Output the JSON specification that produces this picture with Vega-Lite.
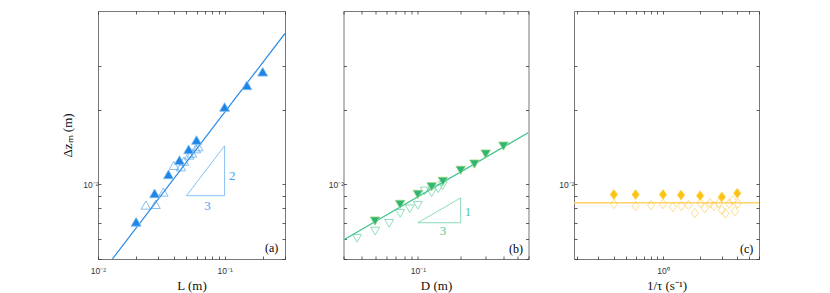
{
  "$schema": "https://vega.github.io/schema/vega-lite/v6.json",
  "padding": {"left": 61, "top": 10, "right": 0, "bottom": 0},
  "background": "white",
  "spacing": 28.5,
  "config": {
    "view": {"stroke": "#777777", "strokeWidth": 1},
    "style": {"guide-title": {"fontWeight": "normal"}},
    "axis": {
      "domain": false, "grid": false, "tickSize": -3, "tickColor": "#333333", "tickWidth": 0.8,
      "labelFont": "Liberation Sans", "labelFontSize": 8.5, "labelColor": "#333333",
      "labelFlush": false, "labelOverlap": false, "labelPadding": 3,
      "titleFont": "Liberation Serif", "titleFontSize": 13, "titleFontWeight": "normal", "titleColor": "#111111"
    },
    "axisX": {"labelPadding": 10, "titlePadding": 5},
    "axisY": {"titlePadding": 8},
    "text": {"font": "Liberation Serif"}
  },
  "datasets": {
    "a": [
      {"k": "fit", "x": 0.013, "y": 0.005},
      {"k": "fit", "x": 0.3, "y": 0.0406},
      {"k": "tri", "x": 0.05, "y": 0.009, "o": 0},
      {"k": "tri", "x": 0.1, "y": 0.009, "o": 1},
      {"k": "tri", "x": 0.1, "y": 0.0143, "o": 2},
      {"k": "tri", "x": 0.05, "y": 0.009, "o": 3},
      {"k": "open", "x": 0.0239, "y": 0.00825},
      {"k": "open", "x": 0.0285, "y": 0.0083},
      {"k": "open", "x": 0.0328, "y": 0.00931},
      {"k": "open", "x": 0.0398, "y": 0.01193},
      {"k": "open", "x": 0.0452, "y": 0.01177},
      {"k": "open", "x": 0.0477, "y": 0.0124},
      {"k": "open", "x": 0.0526, "y": 0.01313},
      {"k": "open", "x": 0.0552, "y": 0.01337},
      {"k": "open", "x": 0.0594, "y": 0.01392},
      {"k": "open", "x": 0.0619, "y": 0.01418},
      {"k": "filled", "x": 0.02, "y": 0.00706},
      {"k": "filled", "x": 0.028, "y": 0.0092},
      {"k": "filled", "x": 0.036, "y": 0.01097},
      {"k": "filled", "x": 0.044, "y": 0.01253},
      {"k": "filled", "x": 0.052, "y": 0.01384},
      {"k": "filled", "x": 0.06, "y": 0.01509},
      {"k": "filled", "x": 0.1, "y": 0.0205},
      {"k": "filled", "x": 0.15, "y": 0.02507},
      {"k": "filled", "x": 0.2, "y": 0.02844},
      {"k": "slope", "x": 0.1147, "y": 0.0108, "t": "2"},
      {"k": "slope", "x": 0.0734, "y": 0.00818, "t": "3"},
      {"k": "panel", "x": 0.235, "y": 0.00555, "t": "(a)"}
    ],
    "b": [
      {"k": "fit", "x": 0.03, "y": 0.00596},
      {"k": "fit", "x": 0.6, "y": 0.01618},
      {"k": "tri", "x": 0.1, "y": 0.007, "o": 0},
      {"k": "tri", "x": 0.2, "y": 0.007, "o": 1},
      {"k": "tri", "x": 0.2, "y": 0.00882, "o": 2},
      {"k": "tri", "x": 0.1, "y": 0.007, "o": 3},
      {"k": "open", "x": 0.0373, "y": 0.00606},
      {"k": "open", "x": 0.0502, "y": 0.00648},
      {"k": "open", "x": 0.0629, "y": 0.00696},
      {"k": "open", "x": 0.0751, "y": 0.00764},
      {"k": "open", "x": 0.0877, "y": 0.00797},
      {"k": "open", "x": 0.1, "y": 0.00823},
      {"k": "open", "x": 0.1116, "y": 0.0094},
      {"k": "open", "x": 0.125, "y": 0.00925},
      {"k": "open", "x": 0.139, "y": 0.0096},
      {"k": "open", "x": 0.1496, "y": 0.00989},
      {"k": "filled", "x": 0.05, "y": 0.00711},
      {"k": "filled", "x": 0.075, "y": 0.0083},
      {"k": "filled", "x": 0.1, "y": 0.00911},
      {"k": "filled", "x": 0.125, "y": 0.00978},
      {"k": "filled", "x": 0.15, "y": 0.01028},
      {"k": "filled", "x": 0.2, "y": 0.01139},
      {"k": "filled", "x": 0.25, "y": 0.01207},
      {"k": "filled", "x": 0.3, "y": 0.01325},
      {"k": "filled", "x": 0.4, "y": 0.01426},
      {"k": "slope", "x": 0.2255, "y": 0.00775, "t": "1"},
      {"k": "slope", "x": 0.15, "y": 0.00648, "t": "3"},
      {"k": "panel", "x": 0.491, "y": 0.0055, "t": "(b)"}
    ],
    "c": [
      {"k": "fit", "x": 0.19, "y": 0.00843},
      {"k": "fit", "x": 6, "y": 0.00843},
      {"k": "open", "x": 0.4, "y": 0.00833},
      {"k": "open", "x": 0.6, "y": 0.00818},
      {"k": "open", "x": 0.8, "y": 0.00825},
      {"k": "open", "x": 1.0, "y": 0.00833},
      {"k": "open", "x": 1.2, "y": 0.0081},
      {"k": "open", "x": 1.41, "y": 0.00818},
      {"k": "open", "x": 1.61, "y": 0.00825},
      {"k": "open", "x": 1.81, "y": 0.00766},
      {"k": "open", "x": 2.01, "y": 0.0084},
      {"k": "open", "x": 2.18, "y": 0.00802},
      {"k": "open", "x": 2.41, "y": 0.0084},
      {"k": "open", "x": 2.58, "y": 0.00818},
      {"k": "open", "x": 2.84, "y": 0.0084},
      {"k": "open", "x": 3.0, "y": 0.00788},
      {"k": "open", "x": 3.21, "y": 0.00764},
      {"k": "open", "x": 3.44, "y": 0.00835},
      {"k": "open", "x": 3.67, "y": 0.00862},
      {"k": "open", "x": 3.83, "y": 0.0078},
      {"k": "open", "x": 4.03, "y": 0.00838},
      {"k": "filled", "x": 0.4, "y": 0.0091},
      {"k": "filled", "x": 0.6, "y": 0.0091},
      {"k": "filled", "x": 1.0, "y": 0.0091},
      {"k": "filled", "x": 1.4, "y": 0.00905},
      {"k": "filled", "x": 2.0, "y": 0.009},
      {"k": "filled", "x": 3.0, "y": 0.0089},
      {"k": "filled", "x": 4.0, "y": 0.0092},
      {"k": "panel", "x": 4.77, "y": 0.0055, "t": "(c)"}
    ]
  },
  "hconcat": [
    {
      "width": 187, "height": 248,
      "data": {"name": "a"},
      "layer": [
        {
          "transform": [{"filter": "datum.k === 'fit'"}],
          "mark": {"type": "line", "clip": true, "color": "#2a8be6", "strokeWidth": 1.2},
          "encoding": {
            "x": {"field": "x", "type": "quantitative", "scale": {"type": "log", "domain": [0.01, 0.3], "nice": false},
              "axis": {"orient": "bottom", "title": "L (m)", "titleFontWeight": "normal", "values": [0.01,0.02,0.03,0.04,0.05,0.06,0.07,0.08,0.09,0.1,0.2,0.3],
                "labelExpr": "abs(datum.value-0.01)<1e-9 ? '10⁻²' : (abs(datum.value-0.1)<1e-9 ? '10⁻¹' : '')"}},
            "y": {"field": "y", "type": "quantitative", "scale": {"type": "log", "domain": [0.005, 0.05], "nice": false},
              "axis": {"orient": "left", "title": "Δzₘ (m)", "titleFontWeight": "normal", "values": [0.005,0.006,0.007,0.008,0.009,0.01,0.02,0.03],
                "labelExpr": "abs(datum.value-0.01)<1e-9 ? '10⁻²' : ''"}}
          }
        },
        {
          "transform": [{"filter": "datum.k === 'tri'"}],
          "mark": {"type": "line", "color": "#6aaef0", "strokeWidth": 0.8},
          "encoding": {
            "x": {"field": "x", "type": "quantitative", "axis": {"orient": "top", "title": null, "labels": false, "values": [0.01,0.02,0.03,0.04,0.05,0.06,0.07,0.08,0.09,0.1,0.2,0.3]}},
            "y": {"field": "y", "type": "quantitative", "axis": {"orient": "right", "title": null, "labels": false, "values": [0.005,0.006,0.007,0.008,0.009,0.01,0.02,0.03]}},
            "order": {"field": "o", "type": "quantitative"}
          }
        },
        {
          "transform": [{"filter": "datum.k === 'open'"}],
          "mark": {"type": "point", "shape": "triangle-up", "filled": false, "size": 90, "color": "#2a8be6", "strokeWidth": 0.8},
          "encoding": {"x": {"field": "x", "type": "quantitative", "axis": null}, "y": {"field": "y", "type": "quantitative", "axis": null}}
        },
        {
          "transform": [{"filter": "datum.k === 'filled'"}],
          "mark": {"type": "point", "shape": "triangle-up", "filled": true, "size": 100, "fill": "#1f86e6", "stroke": "#7cbcf2", "strokeWidth": 0.8, "opacity": 1},
          "encoding": {"x": {"field": "x", "type": "quantitative", "axis": null}, "y": {"field": "y", "type": "quantitative", "axis": null}}
        },
        {
          "transform": [{"filter": "datum.k === 'slope'"}],
          "mark": {"type": "text", "fontSize": 13, "color": "#4a9eee"},
          "encoding": {"x": {"field": "x", "type": "quantitative", "axis": null}, "y": {"field": "y", "type": "quantitative", "axis": null}, "text": {"field": "t"}}
        },
        {
          "transform": [{"filter": "datum.k === 'panel'"}],
          "mark": {"type": "text", "fontSize": 12, "color": "#000000"},
          "encoding": {"x": {"field": "x", "type": "quantitative", "axis": null}, "y": {"field": "y", "type": "quantitative", "axis": null}, "text": {"field": "t"}}
        }
      ],
      "resolve": {"axis": {"x": "independent", "y": "independent"}}
    },
    {
      "width": 185, "height": 248,
      "data": {"name": "b"},
      "layer": [
        {
          "transform": [{"filter": "datum.k === 'fit'"}],
          "mark": {"type": "line", "clip": true, "color": "#3cc48b", "strokeWidth": 1.2},
          "encoding": {
            "x": {"field": "x", "type": "quantitative", "scale": {"type": "log", "domain": [0.03, 0.6], "nice": false},
              "axis": {"orient": "bottom", "title": "D (m)", "titleFontWeight": "normal", "values": [0.03,0.04,0.05,0.06,0.07,0.08,0.09,0.1,0.2,0.3,0.4,0.5,0.6],
                "labelExpr": "abs(datum.value-0.1)<1e-9 ? '10⁻¹' : ''"}},
            "y": {"field": "y", "type": "quantitative", "scale": {"type": "log", "domain": [0.005, 0.05], "nice": false},
              "axis": {"orient": "left", "title": null, "minExtent": 28, "values": [0.005,0.006,0.007,0.008,0.009,0.01,0.02,0.03],
                "labelExpr": "abs(datum.value-0.01)<1e-9 ? '10⁻²' : ''"}}
          }
        },
        {
          "transform": [{"filter": "datum.k === 'tri'"}],
          "mark": {"type": "line", "color": "#6fd3a6", "strokeWidth": 0.8},
          "encoding": {
            "x": {"field": "x", "type": "quantitative", "axis": {"orient": "top", "title": null, "labels": false, "values": [0.03,0.04,0.05,0.06,0.07,0.08,0.09,0.1,0.2,0.3,0.4,0.5,0.6]}},
            "y": {"field": "y", "type": "quantitative", "axis": {"orient": "right", "title": null, "labels": false, "values": [0.005,0.006,0.007,0.008,0.009,0.01,0.02,0.03]}},
            "order": {"field": "o", "type": "quantitative"}
          }
        },
        {
          "transform": [{"filter": "datum.k === 'open'"}],
          "mark": {"type": "point", "shape": "triangle-down", "filled": false, "size": 80, "color": "#3cc48b", "strokeWidth": 0.8},
          "encoding": {"x": {"field": "x", "type": "quantitative", "axis": null}, "y": {"field": "y", "type": "quantitative", "axis": null}}
        },
        {
          "transform": [{"filter": "datum.k === 'filled'"}],
          "mark": {"type": "point", "shape": "triangle-down", "filled": true, "size": 90, "fill": "#2fb57a", "stroke": "#9ad47a", "strokeWidth": 0.8, "opacity": 1},
          "encoding": {"x": {"field": "x", "type": "quantitative", "axis": null}, "y": {"field": "y", "type": "quantitative", "axis": null}}
        },
        {
          "transform": [{"filter": "datum.k === 'slope'"}],
          "mark": {"type": "text", "fontSize": 13, "color": "#4fcc98"},
          "encoding": {"x": {"field": "x", "type": "quantitative", "axis": null}, "y": {"field": "y", "type": "quantitative", "axis": null}, "text": {"field": "t"}}
        },
        {
          "transform": [{"filter": "datum.k === 'panel'"}],
          "mark": {"type": "text", "fontSize": 12, "color": "#000000"},
          "encoding": {"x": {"field": "x", "type": "quantitative", "axis": null}, "y": {"field": "y", "type": "quantitative", "axis": null}, "text": {"field": "t"}}
        }
      ],
      "resolve": {"axis": {"x": "independent", "y": "independent"}}
    },
    {
      "width": 185, "height": 248,
      "data": {"name": "c"},
      "layer": [
        {
          "transform": [{"filter": "datum.k === 'fit'"}],
          "mark": {"type": "line", "clip": true, "color": "#fdd36a", "strokeWidth": 1.4},
          "encoding": {
            "x": {"field": "x", "type": "quantitative", "scale": {"type": "log", "domain": [0.19, 6], "nice": false},
              "axis": {"orient": "bottom", "title": "1/τ (s⁻¹)", "titleFontWeight": "normal", "values": [0.2,0.3,0.4,0.5,0.6,0.7,0.8,0.9,1,2,3,4,5,6],
                "labelExpr": "abs(datum.value-1)<1e-9 ? '10⁰' : ''"}},
            "y": {"field": "y", "type": "quantitative", "scale": {"type": "log", "domain": [0.005, 0.05], "nice": false},
              "axis": {"orient": "left", "title": null, "values": [0.005,0.006,0.007,0.008,0.009,0.01,0.02,0.03],
                "labelExpr": "abs(datum.value-0.01)<1e-9 ? '10⁻²' : ''"}}
          }
        },
        {
          "transform": [{"filter": "datum.k === 'open'"}],
          "mark": {"type": "point", "shape": "M0,-1L0.75,0L0,1L-0.75,0Z", "filled": false, "size": 90, "color": "#fcc43c", "strokeWidth": 0.8},
          "encoding": {
            "x": {"field": "x", "type": "quantitative", "axis": {"orient": "top", "title": null, "labels": false, "values": [0.2,0.3,0.4,0.5,0.6,0.7,0.8,0.9,1,2,3,4,5,6]}},
            "y": {"field": "y", "type": "quantitative", "axis": {"orient": "right", "title": null, "labels": false, "values": [0.005,0.006,0.007,0.008,0.009,0.01,0.02,0.03]}}
          }
        },
        {
          "transform": [{"filter": "datum.k === 'filled'"}],
          "mark": {"type": "point", "shape": "M0,-1L0.75,0L0,1L-0.75,0Z", "filled": true, "size": 100, "fill": "#fbc219", "stroke": "#ffd957", "strokeWidth": 0.8, "opacity": 1},
          "encoding": {"x": {"field": "x", "type": "quantitative", "axis": null}, "y": {"field": "y", "type": "quantitative", "axis": null}}
        },
        {
          "transform": [{"filter": "datum.k === 'panel'"}],
          "mark": {"type": "text", "fontSize": 12, "color": "#000000"},
          "encoding": {"x": {"field": "x", "type": "quantitative", "axis": null}, "y": {"field": "y", "type": "quantitative", "axis": null}, "text": {"field": "t"}}
        }
      ],
      "resolve": {"axis": {"x": "independent", "y": "independent"}}
    }
  ]
}
